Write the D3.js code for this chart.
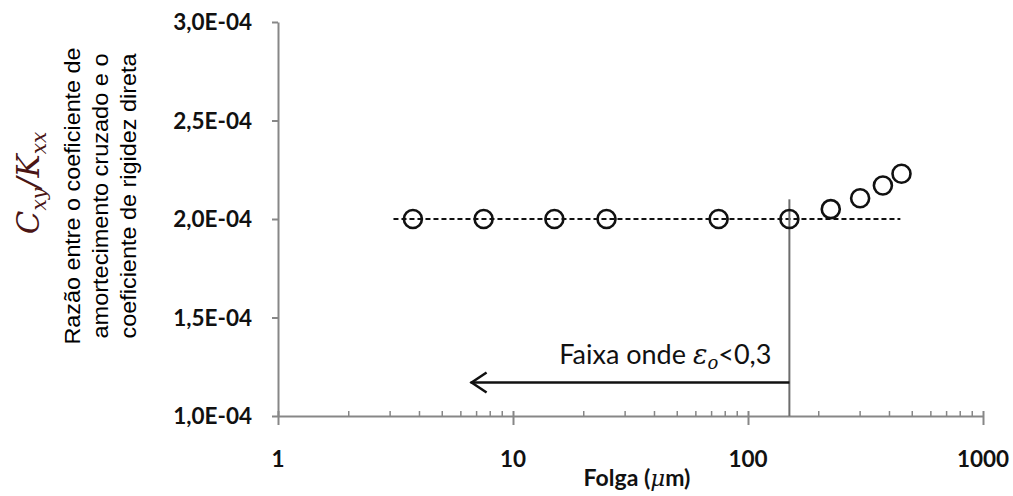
<!DOCTYPE html>
<html>
<head>
<meta charset="utf-8">
<script src="https://cdn.jsdelivr.net/npm/d3@7"></script>
<style>
  body { margin: 0; background: #fff; }
  svg { display: block; }
</style>
</head>
<body>
<div id="chart"></div>
<script>
// Folga (um) vs Cxy/Kxx ratio
const folga = [3.75, 7.5, 15, 25, 75, 150, 225, 300, 375, 450];
const razao = [2.0e-4, 2.0e-4, 2.0e-4, 2.0e-4, 2.0e-4, 2.0e-4, 2.05e-4, 2.105e-4, 2.17e-4, 2.23e-4];

// dashed reference line at 2,0E-04
const refX = [3.1, 445];
const refY = [2.0e-4, 2.0e-4];

// limit of the range where eps0 < 0.3
const limitX = 150;
const limitTop = 2.1e-4;
const arrowTipX = 6.6;
const arrowY = 1.17e-4;

const xTicks = [1, 10, 100, 1000];
const xTickLabels = ["1", "10", "100", "1000"];
const yTicks = [1.0e-4, 1.5e-4, 2.0e-4, 2.5e-4, 3.0e-4];
const yTickLabels = ["1,0E-04", "1,5E-04", "2,0E-04", "2,5E-04", "3,0E-04"];

const width = 1013, height = 496;
const axisColor = "#878787";

const svg = d3.select("#chart").append("svg")
  .attr("width", width)
  .attr("height", height);

const x = d3.scaleLog().domain([1, 1000]).range([278, 983]);
const y = d3.scaleLinear().domain([1.0e-4, 3.0e-4]).range([416, 22]);

// minor ticks for the log axis
const minorTicks = [];
for (let dec = 1; dec < 1000; dec *= 10) {
  for (let k = 2; k <= 9; k++) minorTicks.push(dec * k);
}

// Y axis
const yAxis = svg.append("g")
  .attr("transform", `translate(${x(1)},0)`)
  .call(d3.axisLeft(y).tickValues(yTicks).tickSize(6).tickSizeOuter(0).tickFormat(""));
yAxis.select(".domain").attr("stroke", axisColor).attr("stroke-width", 2);
yAxis.selectAll(".tick line").attr("stroke", axisColor).attr("stroke-width", 2);

// X axis
const xAxis = svg.append("g")
  .attr("transform", `translate(0,${y(1.0e-4)})`)
  .call(d3.axisBottom(x).tickValues(xTicks).tickSize(9).tickSizeOuter(0).tickFormat(""));
xAxis.select(".domain").attr("stroke", axisColor).attr("stroke-width", 2);
xAxis.selectAll(".tick line").attr("stroke", axisColor).attr("stroke-width", 2).attr("y1", -5);

svg.append("g")
  .attr("transform", `translate(0,${y(1.0e-4)})`)
  .selectAll("line")
  .data(minorTicks)
  .join("line")
  .attr("x1", d => x(d)).attr("x2", d => x(d))
  .attr("y1", 0).attr("y2", -5)
  .attr("stroke", axisColor)
  .attr("stroke-width", 1.5);

// tick labels
svg.append("g").selectAll("text")
  .data(yTicks)
  .join("text")
  .attr("x", 252)
  .attr("y", d => y(d))
  .attr("dy", "0.36em")
  .attr("text-anchor", "end")
  .attr("font-family", "Lato, sans-serif")
  .attr("font-weight", "bold")
  .attr("font-size", 22.5)
  .attr("fill", "#111")
  .text((d, i) => yTickLabels[i]);

svg.append("g").selectAll("text")
  .data(xTicks)
  .join("text")
  .attr("x", d => x(d))
  .attr("y", 459)
  .attr("dy", "0.36em")
  .attr("text-anchor", "middle")
  .attr("font-family", "Lato, sans-serif")
  .attr("font-weight", "bold")
  .attr("font-size", 22.5)
  .attr("fill", "#111")
  .text((d, i) => xTickLabels[i]);

// X axis title
const xt = svg.append("text")
  .attr("x", 637)
  .attr("y", 486)
  .attr("text-anchor", "middle")
  .attr("font-family", "Lato, sans-serif")
  .attr("font-weight", "bold")
  .attr("font-size", 23)
  .attr("fill", "#111");
xt.append("tspan").text("Folga (");
xt.append("tspan").attr("font-family", "DejaVu Serif, serif").attr("font-style", "italic").attr("font-weight", "normal").text("\u03bc");
xt.append("tspan").text("m)");

// Y axis titles
const yTitle = svg.append("g")
  .attr("font-family", "Liberation Sans, Arial, sans-serif")
  .attr("font-size", 22)
  .attr("fill", "#000")
  .attr("text-anchor", "middle");
["Razão entre o coeficiente de", "amortecimento cruzado e o", "coeficiente de rigidez direta"]
  .forEach((s, i) => {
    yTitle.append("text")
      .attr("transform", `translate(${80 + i * 28},196) rotate(-90)`)
      .attr("textLength", i === 0 ? 297 : 285)
      .attr("lengthAdjust", "spacingAndGlyphs")
      .text(s);
  });

const ct = svg.append("text")
  .attr("transform", "translate(39,183) rotate(-90)")
  .attr("text-anchor", "middle")
  .attr("font-family", "DejaVu Serif, serif")
  .attr("font-style", "italic")
  .attr("font-size", 31)
  .attr("fill", "#4a1515");
ct.append("tspan").text("C");
ct.append("tspan").attr("font-size", 20).attr("dy", 7).text("xy");
ct.append("tspan").attr("dy", -7).text("/K");
ct.append("tspan").attr("font-size", 20).attr("dy", 7).text("xx");

// dashed reference line
const line = d3.line().x(d => x(d[0])).y(d => y(d[1]));
svg.append("path")
  .attr("d", line(refX.map((v, i) => [v, refY[i]])))
  .attr("fill", "none")
  .attr("stroke", "#111")
  .attr("stroke-width", 2.2)
  .attr("stroke-dasharray", "5,3");

// vertical limit line
svg.append("line")
  .attr("x1", x(limitX)).attr("x2", x(limitX))
  .attr("y1", y(1.0e-4)).attr("y2", y(limitTop))
  .attr("stroke", "#6d6d6d")
  .attr("stroke-width", 2);

// data points
svg.append("g").selectAll("circle")
  .data(folga)
  .join("circle")
  .attr("cx", d => x(d))
  .attr("cy", (d, i) => y(razao[i]))
  .attr("r", 9)
  .attr("fill", "none")
  .attr("stroke", "#111")
  .attr("stroke-width", 2.6);

// arrow
const ax1 = x(limitX), ax2 = x(arrowTipX), ay = y(arrowY);
svg.append("line")
  .attr("x1", ax1).attr("x2", ax2)
  .attr("y1", ay).attr("y2", ay)
  .attr("stroke", "#111")
  .attr("stroke-width", 2.5);
svg.append("path")
  .attr("d", `M${ax2 + 16},${ay - 10} L${ax2 + 1},${ay} L${ax2 + 16},${ay + 10}`)
  .attr("fill", "none")
  .attr("stroke", "#111")
  .attr("stroke-width", 2.5);

// annotation
const note = svg.append("text")
  .attr("x", ax1 - 18)
  .attr("y", 364)
  .attr("text-anchor", "end")
  .attr("font-family", "Lato, sans-serif")
  .attr("font-size", 27)
  .attr("fill", "#111");
note.append("tspan").text("Faixa onde ");
note.append("tspan").attr("font-family", "DejaVu Serif, serif").attr("font-style", "italic").text("\u03b5");
note.append("tspan").attr("font-family", "DejaVu Serif, serif").attr("font-style", "italic").attr("font-size", 18).attr("dy", 5).text("o");
note.append("tspan").attr("dy", -5).text("<0,3");
</script>
</body>
</html>
